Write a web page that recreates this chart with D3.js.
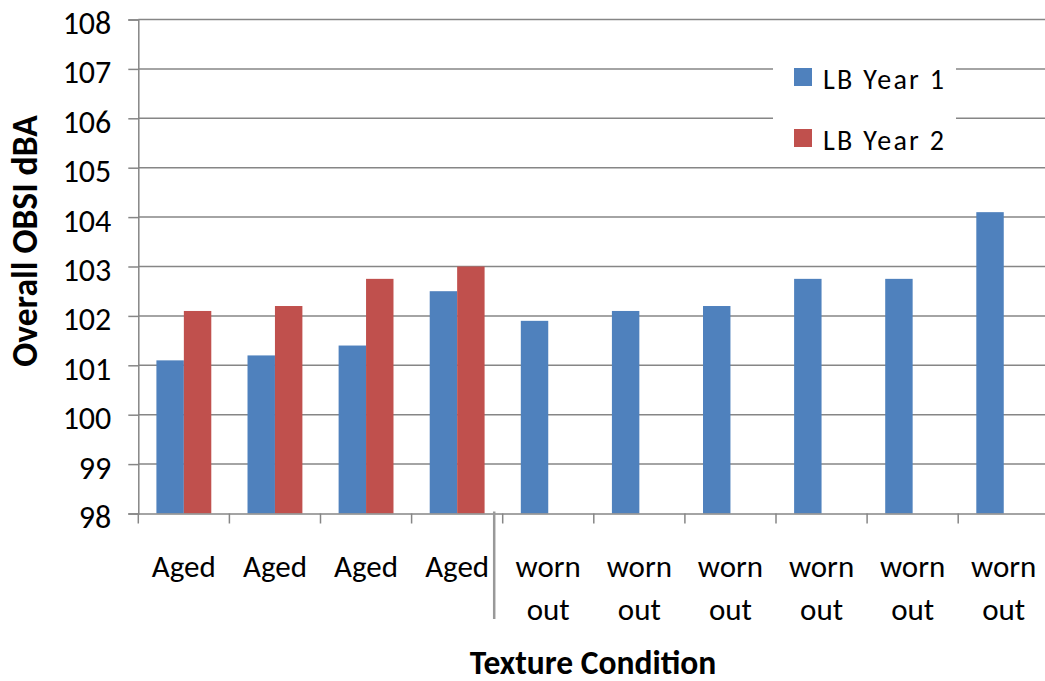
<!DOCTYPE html>
<html>
<head>
<meta charset="utf-8">
<script src="https://cdn.jsdelivr.net/npm/d3@7"></script>
<style>
  html, body { margin: 0; padding: 0; background: #fff; }
  svg { display: block; font-family: Carlito, Lato, "Open Sans", sans-serif; }
</style>
</head>
<body>
<svg id="chart" width="1045" height="681"></svg>
<script>
const categories = ["Aged", "Aged", "Aged", "Aged", "worn out", "worn out", "worn out", "worn out", "worn out", "worn out"];
const seriesNames = ["LB Year 1", "LB Year 2"];
const year1 = [101.1, 101.2, 101.4, 102.5, 101.9, 102.1, 102.2, 102.75, 102.75, 104.1];
const year2 = [102.1, 102.2, 102.75, 103.0, null, null, null, null, null, null];
const yTicks = [98, 99, 100, 101, 102, 103, 104, 105, 106, 107, 108];
const colors = ["#4F81BD", "#C0504D"];
const yTitle = "Overall OBSI dBA";
const xTitle = "Texture Condition";

const svg = d3.select("#chart");
const pLeft = 138.3, pRight = 1049.3, pTop = 19.5, pBottom = 513.5;
const gridColor = "#868686";

const x = d3.scaleBand().domain(d3.range(categories.length)).range([pLeft, pRight]).paddingInner(0).paddingOuter(0);
const inner = d3.scaleBand().domain([0, 1]).range([0, x.bandwidth()]).paddingInner(0).paddingOuter(0.66);
const y = d3.scaleLinear().domain([98, 108]).range([pBottom, pTop]);

// gridlines
svg.append("g").selectAll("line").data(yTicks.slice(1)).join("line")
  .attr("x1", pLeft).attr("x2", pRight)
  .attr("y1", d => y(d)).attr("y2", d => y(d))
  .attr("stroke", gridColor).attr("stroke-width", 1.5);

// legend background (covers gridlines)
const legend = svg.append("g");
legend.append("rect").attr("x", 773).attr("y", 45).attr("width", 183).attr("height", 108).attr("fill", "#fff");

// bars
const rows = categories.map((c, i) => ({ i, vals: [year1[i], year2[i]] }));
const g = svg.append("g").selectAll("g").data(rows).join("g")
  .attr("transform", d => `translate(${x(d.i)},0)`);
g.selectAll("rect").data(d => d.vals.map((v, k) => ({ v, k })).filter(e => e.v != null)).join("rect")
  .attr("x", e => inner(e.k))
  .attr("width", inner.bandwidth())
  .attr("y", e => y(e.v))
  .attr("height", e => y(98) - y(e.v))
  .attr("fill", e => colors[e.k]);

// y axis
const yAxis = d3.axisLeft(y).tickValues(yTicks).tickSize(10).tickPadding(17).tickFormat(d3.format("d"));
const ya = svg.append("g").attr("transform", `translate(${pLeft},0)`).call(yAxis);
ya.select(".domain").attr("stroke", gridColor).attr("stroke-width", 1.5);
ya.selectAll(".tick line").attr("stroke", gridColor).attr("stroke-width", 1.5);
ya.selectAll(".tick text").attr("font-size", 32).attr("fill", "#000")
  .attr("font-family", "Carlito, Lato, sans-serif").attr("dy", "0.44em");

// x axis
const xAxis = d3.axisBottom(x).tickValues([]).tickSizeOuter(0);
const xa = svg.append("g").attr("transform", `translate(0,${pBottom})`).call(xAxis);
xa.select(".domain").attr("stroke", gridColor).attr("stroke-width", 1.5);
// category boundary ticks
svg.append("g").selectAll("line").data(d3.range(categories.length)).join("line")
  .attr("x1", i => x(i)).attr("x2", i => x(i))
  .attr("y1", pBottom).attr("y2", pBottom + 10)
  .attr("stroke", gridColor).attr("stroke-width", 1.5);

// category labels
const labels = svg.append("g").selectAll("text").data(categories).join("text")
  .attr("text-anchor", "middle")
  .attr("font-size", 31)
  .attr("fill", "#000");
labels.each(function(c, i) {
  const t = d3.select(this);
  const parts = c.split(" ");
  parts.forEach((p, k) => {
    t.append("tspan").attr("x", x(i) + x.bandwidth() / 2).attr("y", 577 + k * 43).text(p);
  });
});

// group separator
svg.append("line")
  .attr("x1", x(4) - 8.5).attr("x2", x(4) - 8.5)
  .attr("y1", pBottom - 2).attr("y2", 619)
  .attr("stroke", "#999").attr("stroke-width", 2.5);

// legend
seriesNames.forEach((name, k) => {
  const cy = 77 + k * 61;
  legend.append("rect").attr("x", 794).attr("y", cy - 9).attr("width", 18).attr("height", 18).attr("fill", colors[k]);
  legend.append("text").attr("x", 823).attr("y", cy + 12).attr("font-size", 28)
    .attr("letter-spacing", 2.3).attr("fill", "#000").text(name);
});

// titles
svg.append("text").attr("transform", "translate(37,241) rotate(-90)")
  .attr("text-anchor", "middle").attr("font-size", 35.5).attr("font-weight", "bold").attr("fill", "#000").text(yTitle);
svg.append("text").attr("x", 593).attr("y", 674)
  .attr("text-anchor", "middle").attr("font-size", 33.5).attr("font-weight", "bold").attr("fill", "#000").text(xTitle);
</script>
</body>
</html>
